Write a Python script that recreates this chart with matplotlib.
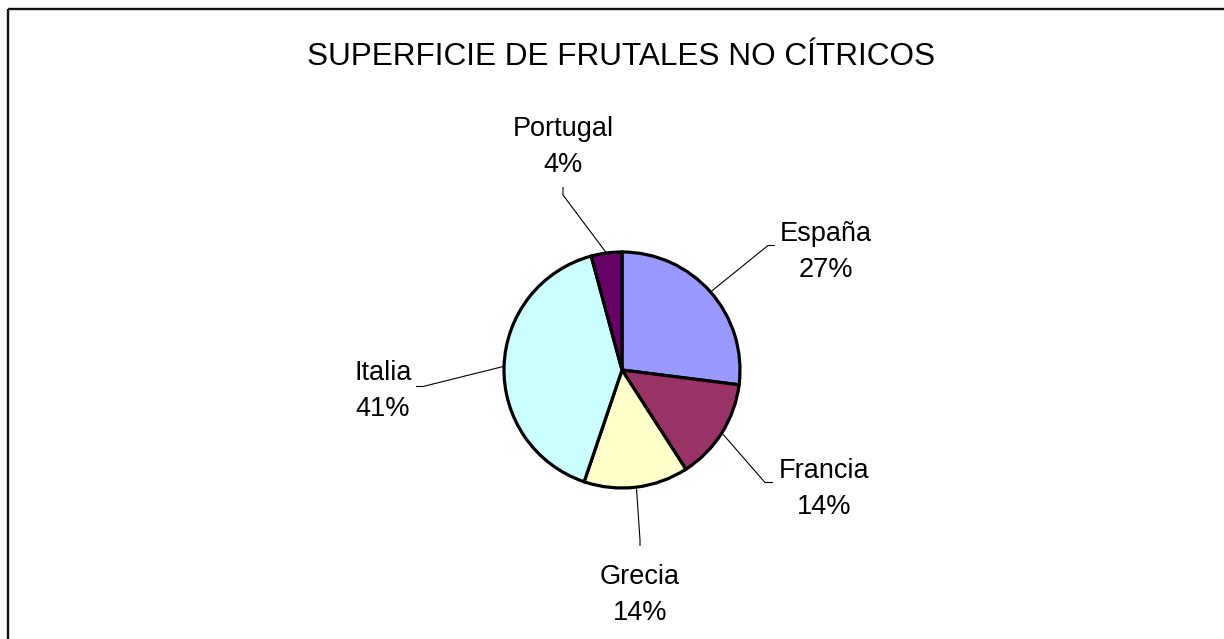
import numpy as np
import matplotlib
matplotlib.use("Agg")
import matplotlib.pyplot as plt

# ---- data ----
categories = ["España", "Francia", "Grecia", "Italia", "Portugal"]
values = [27.0, 13.9, 14.3, 40.6, 4.2]
colors = ["#9999FF", "#993366", "#FFFFCC", "#CCFFFF", "#660066"]
title = "SUPERFICIE DE FRUTALES NO CÍTRICOS"

W, H = 1224, 639
plt.rcParams['font.family'] = ['Liberation Sans', 'DejaVu Sans']
fig = plt.figure(figsize=(W / 100, H / 100), dpi=100)
ax = fig.add_axes([0, 0, 1, 1])

# layout (pixel coords, y measured from top)
cx, cy_top, R = 622, 370, 118
cy = H - cy_top

wedges, _ = ax.pie(values, colors=colors, startangle=90, counterclock=False,
                   center=(cx, cy), radius=R, frame=True,
                   wedgeprops=dict(edgecolor='black', linewidth=2.3))
ax.set_xlim(0, W)
ax.set_ylim(0, H)
ax.set_aspect('equal')
ax.axis('off')

# label layout: text block centre, and elbow start/end points (y from top)
label_pos = {
    "España":   dict(xy=(826, 252), elbow=[(775, 245.5), (768, 245.5)]),
    "Francia":  dict(xy=(824, 489), elbow=[(773, 482.5), (765, 482.5)]),
    "Grecia":   dict(xy=(640, 595), elbow=[(640, 546), (640, 540)]),
    "Italia":   dict(xy=(383, 391), elbow=[(416, 386.5), (423, 386.5)]),
    "Portugal": dict(xy=(563, 147), elbow=[(563, 187), (563, 195)]),
}

for w, name, v in zip(wedges, categories, values):
    mid = np.deg2rad((w.theta1 + w.theta2) / 2)
    ex, ey = cx + R * np.cos(mid), cy + R * np.sin(mid)
    lp = label_pos[name]
    pts = [(x, H - y) for x, y in lp["elbow"]] + [(ex, ey)]
    xs, ys = zip(*pts)
    ax.plot(xs, ys, color='black', lw=0.8, solid_capstyle='butt')
    tx, ty = lp["xy"]
    ax.text(tx, H - ty, f"{name}\n{round(v):d}%", ha='center', va='center',
            fontsize=19.5, linespacing=1.46, color='black')

ax.text(621, H - 57, title, ha='center', va='center', fontsize=22.7, color='black')

# chart frame (top and left edges visible)
ax.plot([7.5, W], [H - 8.5, H - 8.5], color='#111111', lw=1.7, solid_capstyle='butt')
ax.plot([7.5, 7.5], [H - 8.5, 0], color='#111111', lw=1.7, solid_capstyle='butt')

fig.savefig("out.png", dpi=100, facecolor='white')
